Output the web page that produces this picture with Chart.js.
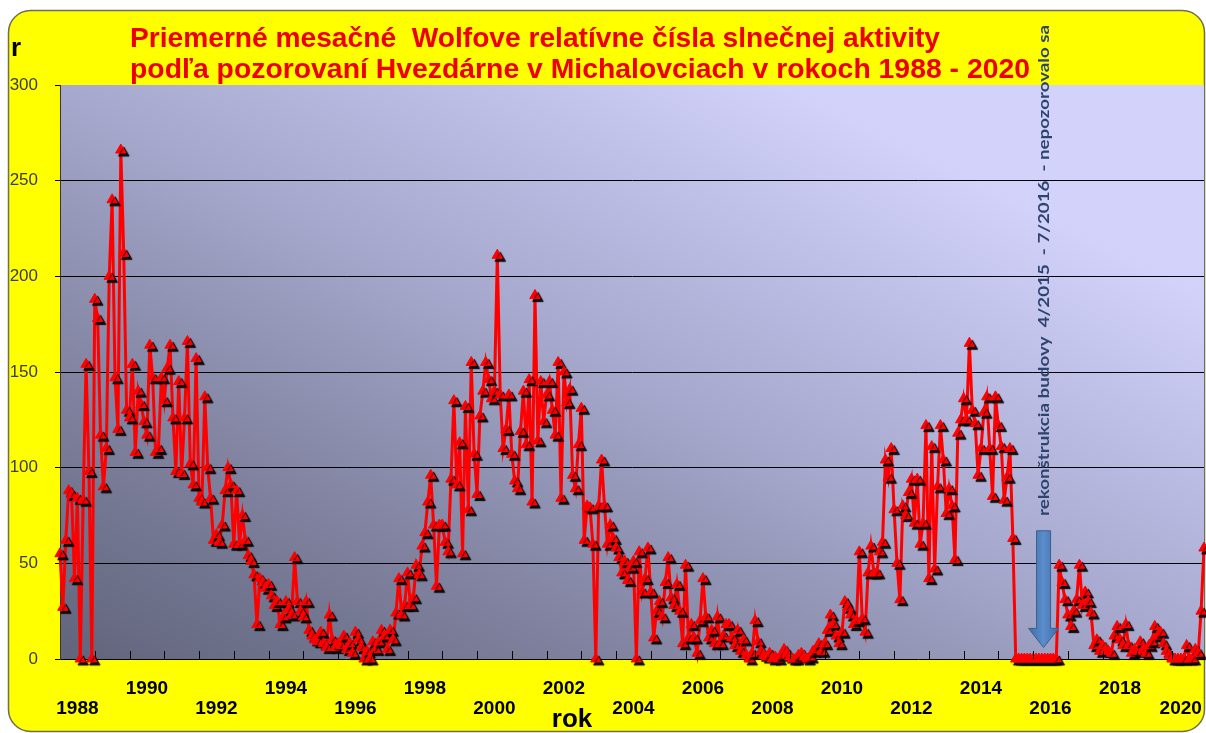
<!DOCTYPE html>
<html>
<head>
<meta charset="utf-8">
<script src="https://cdn.jsdelivr.net/npm/chart.js@4.4.0/dist/chart.umd.min.js"></script>
<style>
  html, body { margin: 0; padding: 0; background: #fff; }
  canvas { display: block; }
</style>
</head>
<body>
<canvas id="wolfChart" width="1206" height="733"></canvas>
<script>
// monthly Wolf numbers (Jan..Dec)
const r1988 = [55, 27, 62, 88, 86, 42, 84, 0, 83, 154, 98, 0];
const r1989 = [188, 178, 117, 90, 110, 200, 240, 147, 120, 266, 212, 130];
const r1990 = [126, 154, 108, 140, 133, 124, 117, 164, 147, 108, 110, 147];
const r1991 = [135, 152, 164, 126, 98, 145, 97, 126, 166, 102, 91, 157];
const r1992 = [84, 82, 137, 100, 84, 62, 65, 61, 70, 88, 100, 91];
const r1993 = [60, 88, 60, 75, 62, 54, 51, 44, 18, 42, 40, 37];
const r1994 = [39, 33, 28, 30, 18, 22, 30, 26, 23, 53, 30, 25];
const r1995 = [22, 30, 15, 12, 10, 9, 14, 8, 6, 23, 10, 6];
const r1996 = [8, 7, 12, 5, 8, 3, 14, 10, 6, 0, 4, 0];
const r1997 = [9, 5, 9, 15, 12, 5, 15, 10, 24, 42, 23, 28];
const r1998 = [45, 28, 32, 49, 44, 59, 66, 82, 96, 70, 38, 70];
const r1999 = [70, 61, 56, 94, 135, 91, 113, 55, 132, 78, 155, 107];
const r2000 = [86, 127, 140, 155, 146, 136, 140, 211, 138, 110, 120, 138];
const r2001 = [107, 93, 89, 119, 140, 112, 146, 82, 190, 114, 145, 124];
const r2002 = [138, 145, 130, 117, 155, 84, 150, 134, 141, 96, 89, 112];
const r2003 = [131, 62, 80, 79, 60, 0, 80, 104, 80, 60, 70, 63];
const r2004 = [58, 53, 45, 51, 41, 48, 51, 0, 56, 35, 42, 58];
const r2005 = [35, 11, 25, 30, 22, 40, 53, 32, 28, 39, 25, 8];
const r2006 = [49, 11, 18, 11, 3, 20, 42, 22, 11, 15, 8, 22];
const r2007 = [8, 12, 18, 18, 11, 7, 15, 4, 10, 2, 0, 3];
const r2008 = [20, 9, 4, 2, 1, 3, 0, 1, 0, 2, 5, 3];
const r2009 = [1, 0, 0, 2, 3, 1, 0, 1, 4, 5, 8, 4];
const r2010 = [8, 15, 23, 18, 12, 8, 14, 30, 27, 23, 18, 20];
const r2011 = [56, 21, 14, 45, 59, 45, 45, 56, 61, 104, 95, 110];
const r2012 = [78, 50, 31, 80, 75, 87, 94, 71, 94, 60, 71, 122];
const r2013 = [42, 111, 47, 90, 122, 104, 76, 89, 80, 52, 118, 125];
const r2014 = [136, 125, 165, 130, 123, 96, 110, 129, 137, 110, 85, 137];
const r2015 = [122, 111, 83, 95, 110, 63, 0, 0, 0, 0, 0, 0];
const r2016 = [0, 0, 0, 0, 0, 0, 0, 0, 0, 49, 40, 31];
const r2017 = [23, 17, 25, 31, 49, 28, 35, 30, 24, 7, 10, 4];
const r2018 = [7, 5, 4, 3, 12, 17, 10, 7, 18, 7, 3, 5];
const r2019 = [4, 9, 5, 3, 7, 9, 17, 12, 14, 8, 4, 2];
const r2020 = [0, 0, 0, 0, 0, 7, 0, 0, 5, 3, 25, 58];

const startYear = 1988;
const labelYears = [1988, 1990, 1992, 1994, 1996, 1998, 2000, 2002, 2004, 2006, 2008, 2010, 2012, 2014, 2016, 2018, 2020];
const yTicks = [0, 50, 100, 150, 200, 250, 300];

const titleLine1 = 'Priemerné mesačné  Wolfove relatívne čísla slnečnej aktivity';
const titleLine2 = 'podľa pozorovaní Hvezdárne v Michalovciach v rokoch 1988 - 2020';
const noteText = 'rekonštrukcia budovy  4/2015  - 7/2016  - nepozorovalo sa';

const values = [].concat(r1988, r1989, r1990, r1991, r1992, r1993, r1994, r1995, r1996, r1997,
  r1998, r1999, r2000, r2001, r2002, r2003, r2004, r2005, r2006, r2007, r2008, r2009,
  r2010, r2011, r2012, r2013, r2014, r2015, r2016, r2017, r2018, r2019, r2020);
const monthX = values.map((v, i) => startYear + i / 12);
const xMax = startYear + (values.length - 1) / 12;

const narrow = "'Liberation Sans Narrow', 'Liberation Sans', Arial, sans-serif";

// fills text so that it spans exactly `width` px
function fitText(ctx, text, x, y, width) {
  const w = ctx.measureText(text).width;
  ctx.save();
  ctx.translate(x, y);
  ctx.scale(width / w, 1);
  ctx.fillText(text, 0, 0);
  ctx.restore();
}

const backdrop = {
  id: 'backdrop',
  beforeDraw(chart) {
    const { ctx, chartArea: a } = chart;
    ctx.save();
    ctx.fillStyle = '#fff';
    ctx.fillRect(0, 0, chart.width, chart.height);
    ctx.beginPath();
    ctx.roundRect(8.5, 10.5, 1196, 721, 22);
    ctx.fillStyle = '#ffff00';
    ctx.fill();
    ctx.lineWidth = 1.5;
    ctx.strokeStyle = '#6e6e50';
    ctx.stroke();
    const g = ctx.createLinearGradient(a.left, a.bottom + 60, a.left + 400, a.bottom - 740);
    g.addColorStop(0, '#5a5e73');
    g.addColorStop(0.33, '#7f819e');
    g.addColorStop(0.63, '#a6a8cd');
    g.addColorStop(1, '#d2d2fb');
    ctx.fillStyle = g;
    ctx.fillRect(a.left, a.top, a.right - a.left, a.bottom - a.top);
    ctx.restore();
  },
  afterDraw(chart) {
    const { ctx, chartArea: a } = chart;
    const xs = chart.scales.x;
    const ys = chart.scales.y;
    ctx.save();
    // inside year tick marks
    ctx.strokeStyle = '#000';
    ctx.lineWidth = 1;
    for (let yr = startYear + 1; yr <= 2020; yr++) {
      const px = Math.round(xs.getPixelForValue(yr)) + 0.5;
      ctx.beginPath();
      ctx.moveTo(px, a.bottom);
      ctx.lineTo(px, a.bottom - 8);
      ctx.stroke();
    }
    // title
    ctx.fillStyle = '#ee0000';
    ctx.textBaseline = 'alphabetic';
    ctx.font = 'bold 28px ' + narrow;
    fitText(ctx, titleLine1, 130, 47, 810);
    fitText(ctx, titleLine2, 130, 78, 900);
    // axis names
    ctx.fillStyle = '#000';
    ctx.font = 'bold 26px ' + narrow;
    ctx.fillText('r', 11, 56);
    ctx.textAlign = 'center';
    ctx.fillText('rok', 572, 727);
    // arrow marking the gap
    const ax = xs.getPixelForValue(2016.3);
    const yTop = ys.getPixelForValue(67);
    const yNeck = ys.getPixelForValue(16);
    const yTip = ys.getPixelForValue(6);
    ctx.beginPath();
    ctx.moveTo(ax - 7, yTop);
    ctx.lineTo(ax + 7, yTop);
    ctx.lineTo(ax + 7, yNeck);
    ctx.lineTo(ax + 15, yNeck);
    ctx.lineTo(ax, yTip);
    ctx.lineTo(ax - 15, yNeck);
    ctx.lineTo(ax - 7, yNeck);
    ctx.closePath();
    const ag = ctx.createLinearGradient(ax - 15, 0, ax + 15, 0);
    ag.addColorStop(0, '#3f6ea8');
    ag.addColorStop(0.5, '#5b8ccb');
    ag.addColorStop(1, '#3f6ea8');
    ctx.fillStyle = ag;
    ctx.fill();
    ctx.strokeStyle = '#3a5f8e';
    ctx.lineWidth = 1;
    ctx.stroke();
    // vertical note
    ctx.translate(ax, 516);
    ctx.rotate(-Math.PI / 2);
    ctx.textAlign = 'left';
    ctx.textBaseline = 'middle';
    ctx.fillStyle = '#2d4470';
    ctx.font = 'bold 16px Lato, sans-serif';
    fitText(ctx, noteText, 0, 0, 491);
    ctx.restore();
  }
};

const markShadow = {
  id: 'markShadow',
  beforeDatasetDraw(chart, args) {
    if (args.index !== 0) return;
    const ctx = chart.ctx;
    ctx.save();
    ctx.shadowColor = 'rgba(0,0,0,0.95)';
    ctx.shadowOffsetX = 3;
    ctx.shadowOffsetY = 3;
    ctx.shadowBlur = 1;
  },
  afterDatasetDraw(chart, args) {
    if (args.index !== 0) return;
    chart.ctx.restore();
  }
};

new Chart(document.getElementById('wolfChart'), {
  type: 'line',
  data: {
    labels: monthX,
    datasets: [
      {
        label: 'body',
        data: values,
        showLine: false,
        pointStyle: 'triangle',
        pointRadius: 6,
        pointBackgroundColor: '#ff0000',
        pointBorderColor: '#ff0000',
        pointBorderWidth: 1,
        clip: false
      },
      {
        label: 'r',
        data: values,
        borderColor: '#ff0000',
        borderWidth: 3,
        pointRadius: 0,
        tension: 0,
        clip: false
      }
    ]
  },
  plugins: [backdrop, markShadow],
  options: {
    responsive: false,
    animation: false,
    devicePixelRatio: 1,
    layout: { autoPadding: false, padding: { top: 85, right: 2, left: 0, bottom: 0 } },
    plugins: {
      legend: { display: false },
      tooltip: { enabled: false },
      title: { display: false }
    },
    scales: {
      x: {
        type: 'linear',
        min: startYear,
        max: xMax,
        afterFit: s => { s.height = 74; s.paddingLeft = 0; s.paddingRight = 0; },
        // label sits in the middle of its year, the last one pulled in to fit
        afterBuildTicks: s => { s.ticks = labelYears.map(y => ({ value: Math.min(y + 0.5, xMax - 0.67) })); },
        grid: { display: false, drawTicks: false },
        border: { display: true, color: '#000', width: 1 },
        ticks: {
          autoSkip: false,
          maxRotation: 0,
          padding: 20,
          color: '#000',
          font: { family: narrow, size: 19, weight: 'bold', lineHeight: 1.05 },
          callback: v => {
            const yr = Math.floor(v);
            return ((yr - startYear) / 2) % 2 === 0 ? ['', String(yr)] : String(yr);
          }
        }
      },
      y: {
        min: 0,
        max: 300,
        afterFit: s => { s.width = 60; },
        afterBuildTicks: s => { s.ticks = yTicks.map(v => ({ value: v })); },
        grid: {
          color: c => (c.tick && c.tick.value > 0 && c.tick.value < 300) ? '#000' : 'rgba(0,0,0,0)',
          tickColor: '#000',
          tickLength: 5,
          lineWidth: 1
        },
        border: { display: true, color: '#333', width: 1 },
        ticks: {
          padding: 17,
          color: '#3c3c3c',
          font: { family: narrow, size: 17 }
        }
      }
    }
  }
});
</script>
</body>
</html>
